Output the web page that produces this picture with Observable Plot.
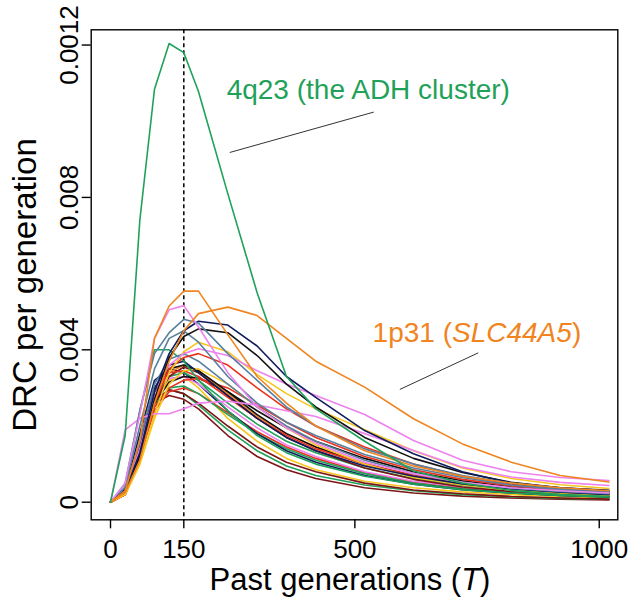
<!DOCTYPE html>
<html><head><meta charset="utf-8">
<script src="https://cdn.jsdelivr.net/npm/d3@7"></script>
<script src="https://cdn.jsdelivr.net/npm/@observablehq/plot@0.6"></script>
<style>html,body{margin:0;padding:0;background:#fff;}</style>
</head><body><div id="chart"></div>
<script>
// Past generations (T)
const T = [0,30,60,90,120,150,180,240,300,360,420,520,620,720,820,920,1020];
// DRC per generation, in units of 0.001
const adh4q23  = [0,1.75,7.4,10.84,12.04,11.8,10.78,8.1,5.5,3.3,2.45,1.6,0.82,0.5,0.31,0.2,0.15];
const slc44a5  = [0,0.25,1.1,2.6,3.7,4.5,4.95,5.12,4.9,4.3,3.7,3.02,2.19,1.53,1.05,0.7,0.53];
const orangeA  = [0,0.3,1.6,4.3,5.15,5.54,5.54,4.4,3.3,2.6,2.0,1.35,0.95,0.68,0.5,0.38,0.3];
const orangeC  = [0,0.3,1.4,2.9,3.4,3.6,3.45,2.85,2.25,1.8,1.45,1.0,0.7,0.5,0.36,0.27,0.21];
const violetA  = [0,0.5,2.3,4.3,5.05,5.16,4.6,3.4,2.5,1.95,1.55,1.05,0.75,0.52,0.38,0.3,0.24];
const violetB  = [0,1.9,2.2,2.32,2.32,2.45,2.6,2.65,2.55,2.4,2.25,1.8,1.36,0.92,0.66,0.52,0.44];
const violetC  = [0,0.3,1.4,2.9,3.6,3.9,4.03,3.85,3.45,3.1,2.8,2.3,1.62,1.1,0.8,0.65,0.57];
const violetD  = [0,0.3,1.5,2.8,3.25,3.3,3.1,2.5,1.95,1.5,1.2,0.8,0.55,0.4,0.29,0.22,0.17];
const navyA    = [0,0.3,1.3,2.9,3.9,4.5,4.75,4.65,4.1,3.3,2.75,1.88,1.27,0.8,0.5,0.38,0.31];
const navyB    = [0,0.3,1.5,3.0,3.6,3.7,3.4,2.8,2.2,1.7,1.35,0.95,0.68,0.48,0.35,0.26,0.2];
const navyC    = [0,0.35,1.8,3.2,3.5,3.4,3.1,2.4,1.8,1.35,1.05,0.7,0.47,0.33,0.24,0.18,0.14];
const blackA   = [0,0.3,1.2,2.7,3.8,4.35,4.55,4.45,3.85,3.1,2.5,1.7,1.15,0.78,0.52,0.38,0.3];
const blackB   = [0,0.25,1.3,2.6,3.15,3.3,3.25,2.9,2.4,1.95,1.6,1.15,0.8,0.56,0.4,0.3,0.23];
const blackC   = [0,0.3,1.5,2.9,3.5,3.6,3.45,2.9,2.3,1.8,1.45,1.0,0.7,0.5,0.36,0.27,0.2];
const steelA   = [0,0.5,2.4,3.9,4.45,4.8,4.7,3.9,3.2,2.5,2.0,1.4,1.0,0.7,0.5,0.36,0.28];
const steelB   = [0,0.4,2.0,3.5,4.3,4.5,4.2,3.3,2.6,2.1,1.75,1.25,0.9,0.65,0.45,0.33,0.25];
const steelC   = [0,0.3,1.6,3.1,3.75,3.9,3.7,3.1,2.5,2.0,1.6,1.1,0.75,0.52,0.37,0.28,0.22];
const goldA    = [0,0.2,1.0,2.3,3.4,3.95,4.2,3.95,3.35,2.85,2.45,1.9,1.35,0.9,0.62,0.46,0.36];
const goldB    = [0,0.2,1.2,2.6,3.2,3.3,3.0,2.2,1.6,1.15,0.85,0.55,0.38,0.27,0.2,0.15,0.12];
const goldC    = [0,0.2,1.0,2.2,3.1,3.45,3.5,3.1,2.5,1.95,1.5,1.0,0.65,0.45,0.32,0.24,0.18];
const redA     = [0,0.2,1.1,2.6,3.5,3.8,3.9,3.6,3.0,2.45,2.0,1.45,1.0,0.68,0.48,0.35,0.27];
const redB     = [0,0.3,1.6,3.0,3.4,3.45,3.3,2.75,2.2,1.75,1.4,1.0,0.7,0.5,0.36,0.27,0.21];
const redC     = [0,0.2,1.2,2.5,3.0,3.2,3.25,3.0,2.55,2.1,1.7,1.2,0.85,0.6,0.43,0.32,0.25];
const redD     = [0,0.2,1.2,2.4,2.9,3.0,2.85,2.35,1.85,1.45,1.15,0.78,0.53,0.37,0.27,0.2,0.15];
const greenB   = [0,0.4,2.4,4.0,4.0,3.7,3.2,2.4,1.75,1.3,1.0,0.68,0.47,0.33,0.24,0.18,0.14];
const greenC   = [0,0.2,1.3,2.7,3.3,3.4,3.2,2.6,2.05,1.6,1.3,0.9,0.62,0.44,0.32,0.24,0.18];
const greenD   = [0,0.25,1.3,2.5,3.0,3.05,2.85,2.3,1.8,1.4,1.1,0.75,0.5,0.35,0.25,0.18,0.14];
const greenE   = [0,0.3,1.5,2.6,2.95,2.85,2.55,1.9,1.35,0.95,0.7,0.45,0.3,0.2,0.14,0.1,0.08];
const darkredA = [0,0.3,1.5,2.6,2.8,2.7,2.45,1.75,1.2,0.85,0.62,0.38,0.24,0.16,0.11,0.08,0.06];
const darkredB = [0,0.25,1.4,2.7,2.95,2.85,2.6,2.0,1.45,1.05,0.8,0.5,0.32,0.22,0.15,0.11,0.08];
const darkredC = [0,0.2,1.2,2.6,3.3,3.55,3.4,2.8,2.2,1.7,1.35,0.9,0.6,0.4,0.28,0.2,0.15];

const xTicks = [0,150,500,1000];
const xTickLabels = ["0","150","500","1000"];
const yTicks = [0,4,8,12];
const yTickLabels = ["0","0.004","0.008","0.0012"];
const markedT = [150];

const C = {green:"#1fa15a", orange:"#f0841f", violet:"#ee82ee", steel:"#58809e", navy:"#0e1c5c",
           black:"#111111", gold:"#f7c520", red:"#e8321e", darkred:"#7d1416"};

const series = [
  ["darkredA",darkredA,C.darkred],["greenE",greenE,C.green],["goldB",goldB,C.gold],
  ["darkredB",darkredB,C.darkred],["redD",redD,C.red],["greenD",greenD,C.green],
  ["navyC",navyC,C.navy],["violetD",violetD,C.violet],["greenC",greenC,C.green],
  ["blackB",blackB,C.black],["redC",redC,C.red],["darkredC",darkredC,C.darkred],
  ["orangeC",orangeC,C.orange],["blackC",blackC,C.black],["redB",redB,C.red],
  ["goldC",goldC,C.gold],["navyB",navyB,C.navy],["greenB",greenB,C.green],
  ["steelC",steelC,C.steel],["redA",redA,C.red],["goldA",goldA,C.gold],
  ["violetB",violetB,C.violet],["violetC",violetC,C.violet],["steelB",steelB,C.steel],
  ["blackA",blackA,C.black],["navyA",navyA,C.navy],["steelA",steelA,C.steel],
  ["violetA",violetA,C.violet],["orangeA",orangeA,C.orange],
  ["slc44a5",slc44a5,C.orange],["adh4q23",adh4q23,C.green]
];
const rows = series.flatMap(([id, vals, color]) => T.map((t, i) => ({id, t, v: vals[i], color})));

const links = [
  {x1: 244, y1: 9.18, x2: 538.6, y2: 10.24},
  {x1: 592, y1: 2.96, x2: 752.4, y2: 3.92}
];

const W = 633, H = 607, mL = 90.7, mR = 15.7, mT = 29.3, mB = 87.7;
const font = "'Liberation Sans', Arial, Helvetica, sans-serif";

const chart = Plot.plot({
  width: W, height: H,
  marginLeft: mL, marginRight: mR, marginTop: mT, marginBottom: mB,
  x: {domain: [-39.5, 1038]},
  y: {domain: [-0.462, 12.4]},
  color: {type: "identity"},
  style: {fontFamily: font, background: "white", color: "black"},
  marks: [
    Plot.ruleX(markedT, {stroke: "black", strokeWidth: 1.5, strokeDasharray: "4,3"}),
    Plot.line(rows, {x: "t", y: "v", z: "id", stroke: "color", strokeWidth: 1.6, strokeLinejoin: "round"}),
    Plot.link(links, {x1: "x1", y1: "y1", x2: "x2", y2: "y2", stroke: "#333", strokeWidth: 1}),
    Plot.frame({stroke: "black", strokeWidth: 1.4}),
    Plot.axisX(xTicks, {tickSize: 9, tickPadding: 11, fontSize: 26, strokeWidth: 1.4,
      tickFormat: d => xTickLabels[xTicks.indexOf(d)], label: null}),
    Plot.axisY(yTicks, {tickSize: 9, tickPadding: 4, tickRotate: -90, fontSize: 26, strokeWidth: 1.4,
      tickFormat: d => yTickLabels[yTicks.indexOf(d)], label: null})
  ]
});
document.getElementById("chart").appendChild(chart);

const svg = d3.select(chart);
const sx = chart.scale("x"), sy = chart.scale("y");

// axis titles
svg.append("text")
  .attr("transform", `translate(36,285) rotate(-90)`)
  .attr("text-anchor", "middle").attr("font-size", 33).attr("font-family", font).attr("fill", "black")
  .text("DRC per generation");
const xl = svg.append("text")
  .attr("x", (mL + W - mR) / 2 - 4).attr("y", 590)
  .attr("text-anchor", "middle").attr("font-size", 31).attr("font-family", font).attr("fill", "black");
xl.append("tspan").text("Past generations (");
xl.append("tspan").attr("font-style", "italic").text("T");
xl.append("tspan").text(")");

// annotations
svg.append("text")
  .attr("x", sx.apply(238.7)).attr("y", sy.apply(10.575))
  .attr("text-anchor", "start")
  .attr("font-size", 28).attr("font-family", font).attr("fill", C.green)
  .text("4q23 (the ADH cluster)");
const a2 = svg.append("text")
  .attr("x", sx.apply(537.3)).attr("y", sy.apply(4.2))
  .attr("text-anchor", "start")
  .attr("font-size", 28).attr("font-family", font).attr("fill", C.orange);
a2.append("tspan").text("1p31 (");
a2.append("tspan").attr("font-style", "italic").text("SLC44A5");
a2.append("tspan").text(")");
</script>
</body></html>
